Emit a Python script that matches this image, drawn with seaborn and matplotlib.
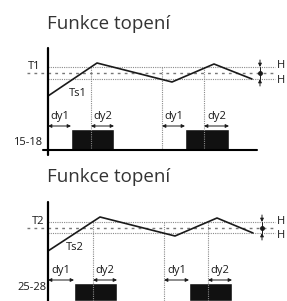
import matplotlib
matplotlib.use("Agg")
import matplotlib.pyplot as plt
import seaborn as sns

# ---- data (time from the y-axis, level relative to the set point) ----
TITLE = "Funkce topení"

top_trace_t = [0, 49, 124, 166, 204]
top_trace_y = [-23, 10, -9, 9, -6]
top_cross_t = [43, 114, 156]
top_dy1_start = [0, 114]
top_relay_on = [23, 137]
top_dy2_start = [43, 156]
top_relay_off = [66, 181]

bot_trace_t = [0, 52, 127, 169, 205]
bot_trace_y = [-23, 11, -8, 10, -5]
bot_cross_t = [45, 116, 160]
bot_dy1_start = [0, 116]
bot_relay_on = [26, 141]
bot_dy2_start = [45, 160]
bot_relay_off = [69, 184]

PANELS = [
    dict(t=top_trace_t, y=top_trace_y, cross=top_cross_t,
         dy1=top_dy1_start, on=top_relay_on, dy2=top_dy2_start, off=top_relay_off,
         upper=6, lower=-6, setlab="T1", tslab="Ts1", mode="15-18",
         ylim=(-77, 73), axis_top=25, hmark=212, ts_xy=(30, -21),
         set_x=-8, mode_xy=(-6, -70), dy_y=-44, arr_y=-53, box_top=-56,
         title_y=44, baseline=True),
    dict(t=bot_trace_t, y=bot_trace_y, cross=bot_cross_t,
         dy1=bot_dy1_start, on=bot_relay_on, dy2=bot_dy2_start, off=bot_relay_off,
         upper=6, lower=-5, setlab="T2", tslab="Ts2", mode="25-28",
         ylim=(-73, 78), axis_top=26, hmark=214, ts_xy=(27, -19),
         set_x=-4, mode_xy=(-1, -59), dy_y=-43, arr_y=-52, box_top=-55,
         title_y=46, baseline=False),
]

sns.set_style("white")
plt.rcParams["font.family"] = ["Open Sans", "DejaVu Sans"]

W, H = 287, 301
fig = plt.figure(figsize=(W / 100, H / 100), dpi=100)

# panel extents in pixels (top, bottom)
extents = [(0, 150), (150, 301)]
INK = "#1a1a1a"
DOT = "#8a8a8a"
LAB = 8


def draw_panel(ax, p):
    ax.set_xlim(-48, W - 48)
    ax.set_ylim(*p["ylim"])
    ax.axis("off")
    lo = p["ylim"][0]

    # threshold lines and set point
    ax.plot([0, 227], [p["upper"]] * 2, color=DOT, lw=0.8, ls=(0, (1, 1)), clip_on=False)
    ax.plot([0, 227], [p["lower"]] * 2, color=DOT, lw=0.8, ls=(0, (1, 1)), clip_on=False)
    ax.plot([-21, 225], [0, 0], color="#777777", lw=1.0, ls=(0, (2, 3)), clip_on=False)

    # vertical markers where the threshold is crossed
    for c in p["cross"]:
        ax.plot([c, c], [p["upper"], lo], color=DOT, lw=0.8, ls=(0, (1, 1)), clip_on=False)

    # temperature trace
    sns.lineplot(x=p["t"], y=p["y"], ax=ax, color=INK, lw=1.2, estimator=None,
                 sort=False, legend=False)
    for ln in ax.lines:
        ln.set_clip_on(False)

    # relay output blocks
    widths = [b - a for a, b in zip(p["on"], p["off"])]
    ax.bar(p["on"], [p["box_top"] - lo] * len(widths), width=widths, bottom=lo,
           align="edge", color="#111111", clip_on=False)

    # delay arrows and labels
    for starts, ends, lab in [(p["dy1"], p["on"], "dy1"), (p["dy2"], p["off"], "dy2")]:
        for a, b in zip(starts, ends):
            ax.annotate("", xy=(b, p["arr_y"]), xytext=(a, p["arr_y"]),
                        arrowprops=dict(arrowstyle="<|-|>", lw=0.7, color=INK,
                                        mutation_scale=5, shrinkA=0, shrinkB=0),
                        annotation_clip=False)
            ax.text((a + b) / 2, p["dy_y"], lab, ha="center", va="center",
                    fontsize=LAB, color=INK)

    # hysteresis marker
    hx = p["hmark"]
    ax.annotate("", xy=(hx, p["upper"]), xytext=(hx, p["upper"] + 7),
                arrowprops=dict(arrowstyle="-|>", lw=0.7, color=INK, mutation_scale=5,
                                shrinkA=0, shrinkB=0), annotation_clip=False)
    ax.annotate("", xy=(hx, p["lower"]), xytext=(hx, p["lower"] - 7),
                arrowprops=dict(arrowstyle="-|>", lw=0.7, color=INK, mutation_scale=5,
                                shrinkA=0, shrinkB=0), annotation_clip=False)
    ax.plot([hx, hx], [p["lower"], p["upper"]], color=INK, lw=0.7, clip_on=False)
    ax.plot([hx], [0], marker="o", ms=2.5, color=INK, clip_on=False)
    ax.text(233, p["upper"] + 1, "H", ha="center", va="center", fontsize=LAB, color=INK)
    ax.text(233, p["lower"] - 2, "H", ha="center", va="center", fontsize=LAB, color=INK)

    # axes lines
    ax.plot([0, 0], [lo - 5, p["axis_top"]], color="#000000", lw=1.6, clip_on=False)
    if p["baseline"]:
        ax.plot([-5, 209], [lo, lo], color="#000000", lw=1.5, clip_on=False)

    # labels
    ax.text(p["set_x"], p["upper"], p["setlab"], ha="right", va="center",
            fontsize=LAB, color=INK)
    ax.text(*p["ts_xy"], p["tslab"], ha="center", va="center", fontsize=LAB, color=INK)
    ax.text(*p["mode_xy"], p["mode"], ha="right", va="center", fontsize=LAB, color=INK)
    ax.text(-1, p["title_y"], TITLE, ha="left", va="baseline", fontsize=13.5, color="#333333")


for (top, bot), p in zip(extents, PANELS):
    ax = fig.add_axes([0, 1 - bot / H, 1, (bot - top) / H])
    draw_panel(ax, p)

fig.savefig("out.png", dpi=100)
